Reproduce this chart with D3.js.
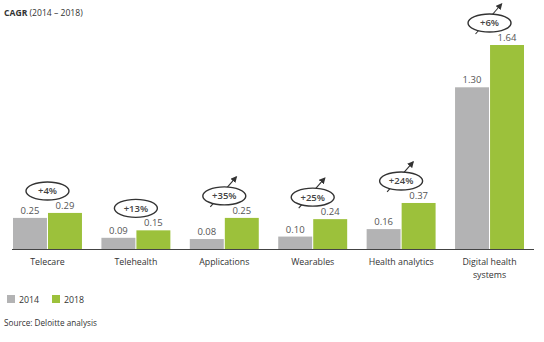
<!DOCTYPE html>
<html><head><meta charset="utf-8">
<script src="https://cdn.jsdelivr.net/npm/d3@7"></script>
<style>
html,body{margin:0;padding:0;background:#fff;}
svg{display:block;font-family:"Open Sans",sans-serif;}
</style></head>
<body>
<svg id="c" width="544" height="342"></svg>
<script>
const categories = ["Telecare","Telehealth","Applications","Wearables","Health analytics","Digital health systems"];
const categoryLines = [["Telecare"],["Telehealth"],["Applications"],["Wearables"],["Health analytics"],["Digital health","systems"]];
const years = ["2014","2018"];
const values2014 = [0.25,0.09,0.08,0.10,0.16,1.30];
const values2018 = [0.29,0.15,0.25,0.24,0.37,1.64];
const cagrLabels = ["+4%","+13%","+35%","+25%","+24%","+6%"];
const cagrArrow = [false,false,true,true,true,true];
const colors = {"2014":"#b3b3b4","2018":"#9cc13b"};

const svg = d3.select("#c");
const baseY = 249;

const x = d3.scaleBand().domain(categories).range([13,524]).paddingInner(0.22).paddingOuter(0);
const xs = d3.scaleBand().domain(years).range([0,x.bandwidth()]).paddingInner(0.03);
const y = d3.scaleLinear().domain([0,1.64]).range([baseY,45]);

const rows = categories.map((c,i)=>({cat:c, lines:categoryLines[i], v:{"2014":values2014[i],"2018":values2018[i]}, cagr:cagrLabels[i], arrow:cagrArrow[i]}));

// title
const t = svg.append("text").attr("x",4).attr("y",16).attr("font-size",8.6).attr("fill","#333");
t.append("tspan").attr("font-weight","bold").text("CAGR");
t.append("tspan").text(" (2014 – 2018)");

// bars
const g = svg.append("g");
const grp = g.selectAll("g.grp").data(rows).join("g").attr("transform",d=>`translate(${x(d.cat)},0)`);
grp.selectAll("rect").data(d=>years.map(k=>({k,v:d.v[k]}))).join("rect")
  .attr("x",d=>xs(d.k)).attr("width",xs.bandwidth())
  .attr("y",d=>y(d.v)).attr("height",d=>baseY-y(d.v))
  .attr("fill",d=>colors[d.k]);
grp.selectAll("text.val").data(d=>years.map(k=>({k,v:d.v[k]}))).join("text").attr("class","val")
  .attr("x",d=>xs(d.k)+xs.bandwidth()/2).attr("y",d=>y(d.v)-4)
  .attr("text-anchor","middle").attr("font-size",9.5).attr("fill","#555")
  .text(d=>d3.format(".2f")(d.v));

// axis line
const xAxis = d3.axisBottom(x).tickSize(0).tickFormat("");
const ax = svg.append("g").attr("transform",`translate(0,${baseY})`).call(xAxis);
ax.select(".domain").attr("d","M12,0.5H534").attr("stroke","#444").attr("stroke-width",1.2);

// category labels
const cl = svg.append("g").selectAll("text").data(rows).join("text")
  .attr("text-anchor","middle").attr("font-size",8.8).attr("fill","#333")
  .attr("transform",d=>`translate(${x(d.cat)+x.bandwidth()/2},${baseY+16})`);
cl.selectAll("tspan").data(d=>d.lines).join("tspan").attr("x",0).attr("y",(d,i)=>i*12.5).text(d=>d);

// CAGR bubbles
const defs = svg.append("defs");
defs.append("marker").attr("id","ah").attr("viewBox","0 0 10 10").attr("refX",8).attr("refY",5)
  .attr("markerWidth",6).attr("markerHeight",6).attr("orient","auto")
  .append("path").attr("d","M0,0L10,5L0,10z").attr("fill","#333");
const bub = svg.append("g").selectAll("g").data(rows).join("g")
  .attr("transform",d=>`translate(${x(d.cat)+x.bandwidth()/2},${y(d.v["2018"])-22})`);
bub.filter(d=>d.arrow).append("line")
  .attr("x1",-14).attr("y1",11).attr("x2",12).attr("y2",-19)
  .attr("stroke","#333").attr("stroke-width",1.1).attr("marker-end","url(#ah)");
bub.append("ellipse").attr("rx",21.5).attr("ry",9).attr("fill","#fff").attr("stroke","#333").attr("stroke-width",1.4);
bub.append("text").attr("text-anchor","middle").attr("y",3.4).attr("font-size",9.5).attr("font-weight","600").attr("fill","#444").text(d=>d.cagr);

// legend
const leg = svg.append("g").selectAll("g").data(years).join("g").attr("transform",(d,i)=>`translate(${7+i*45},295)`);
leg.append("rect").attr("width",8).attr("height",8).attr("fill",d=>colors[d]);
leg.append("text").attr("x",12).attr("y",7.5).attr("font-size",8.8).attr("fill","#333").text(d=>d);

// source
svg.append("text").attr("x",4).attr("y",326).attr("font-size",8.2).attr("fill","#333").text("Source: Deloitte analysis");
</script>
</body></html>
